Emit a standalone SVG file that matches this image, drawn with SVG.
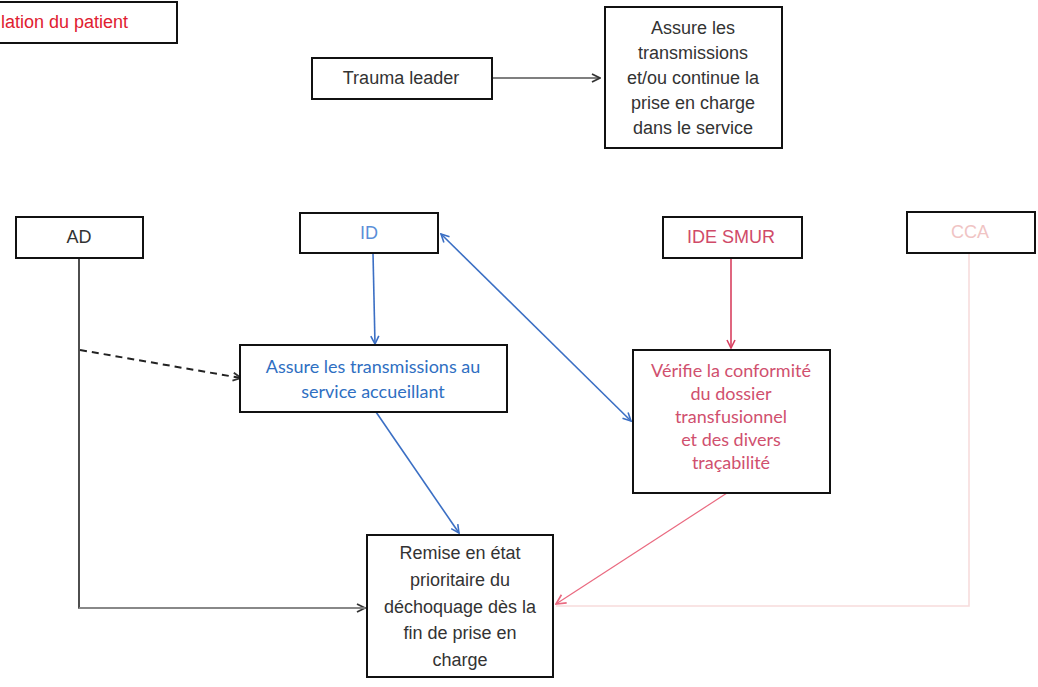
<svg xmlns="http://www.w3.org/2000/svg" width="1038" height="687" viewBox="0 0 1038 687">
<defs>
<style>
.box{fill:#fff;stroke:#111;stroke-width:2}
.t{font-family:"Liberation Sans",Arial,sans-serif;font-size:18px;text-anchor:middle}
.c{font-family:Lato,"Open Sans","Liberation Sans",sans-serif;font-size:18px;text-anchor:middle}
.ln{fill:none;stroke-width:1.6}
</style>
<marker id="aBlack" viewBox="0 0 10 10" refX="9" refY="5" markerWidth="10" markerHeight="10" markerUnits="userSpaceOnUse" orient="auto"><path d="M1,1 L9,5 L1,9" fill="none" stroke="#333" stroke-width="1.8"/></marker>
<marker id="aBlue" viewBox="0 0 10 10" refX="9" refY="5" markerWidth="10" markerHeight="10" markerUnits="userSpaceOnUse" orient="auto-start-reverse"><path d="M1,1 L9,5 L1,9" fill="none" stroke="#3b6fc4" stroke-width="1.6"/></marker>
<marker id="aRed" viewBox="0 0 10 10" refX="9" refY="5" markerWidth="10" markerHeight="10" markerUnits="userSpaceOnUse" orient="auto"><path d="M1,1 L9,5 L1,9" fill="none" stroke="#d84060" stroke-width="1.6"/></marker>
<marker id="aPink" viewBox="0 0 10 10" refX="9" refY="5" markerWidth="12" markerHeight="12" markerUnits="userSpaceOnUse" orient="auto"><path d="M1,1 L9,5 L1,9" fill="none" stroke="#ea6a80" stroke-width="1.4"/></marker>
</defs>
<rect width="1038" height="687" fill="#fff"/>

<g id="connectors">
<!-- Trauma leader -> Assure -->
<line class="ln" x1="492" y1="78" x2="600" y2="78" stroke="#555" marker-end="url(#aBlack)"/>
<!-- AD vertical and to Remise -->
<path class="ln" d="M79,258 L79,608 L365,608" stroke="#222" marker-end="url(#aBlack)"/>
<line x1="79" y1="608" x2="365" y2="608" stroke="#999" stroke-width="1.6"/>
<!-- AD dashed to Assure transmissions -->
<line x1="80" y1="350" x2="241" y2="378" stroke="#222" stroke-width="2" stroke-dasharray="7,5" marker-end="url(#aBlack)"/>
<!-- ID down -->
<line class="ln" x1="373" y1="253" x2="375" y2="344" stroke="#3b6fc4" marker-end="url(#aBlue)"/>
<!-- ID <-> Vérifie -->
<line class="ln" x1="441" y1="234" x2="631" y2="421" stroke="#3b6fc4" marker-start="url(#aBlue)" marker-end="url(#aBlue)"/>
<!-- Assure transmissions -> Remise -->
<line class="ln" x1="376" y1="412" x2="459" y2="533" stroke="#3b6fc4" marker-end="url(#aBlue)"/>
<!-- IDE SMUR down -->
<line class="ln" x1="731" y1="258" x2="731" y2="348" stroke="#d84060" marker-end="url(#aRed)"/>
<!-- CCA line -->
<path d="M969,253 L969,606 L556,606" fill="none" stroke="#f7dcdc" stroke-width="1.6"/>
<!-- Vérifie -> Remise -->
<line x1="727" y1="493" x2="556" y2="604" stroke="#ea6a80" stroke-width="1.2" marker-end="url(#aPink)"/>
</g>

<g id="node-top-left">
<rect class="box" x="-10" y="2" width="187" height="41"/>
<text x="1" y="28" font-family="Liberation Sans,Arial,sans-serif" font-size="18" fill="#e02030">lation du patient</text>
</g>

<g id="node-trauma-leader">
<rect class="box" x="312" y="58" width="180" height="41"/>
<text class="t" x="401" y="84" fill="#333">Trauma leader</text>
</g>

<g id="node-assure-top">
<rect class="box" x="605" y="7" width="177" height="141"/>
<text class="t" fill="#333"><tspan x="693" y="34">Assure les</tspan><tspan x="693" y="59">transmissions</tspan><tspan x="693" y="84">et/ou continue la</tspan><tspan x="693" y="109">prise en charge</tspan><tspan x="693" y="134">dans le service</tspan></text>
</g>

<g id="node-ad">
<rect class="box" x="16" y="217" width="127" height="41"/>
<text class="t" x="79" y="243" fill="#333">AD</text>
</g>

<g id="node-id">
<rect class="box" x="300" y="213" width="138" height="40"/>
<text class="t" x="369" y="239" fill="#5a8ed8">ID</text>
</g>

<g id="node-ide-smur">
<rect class="box" x="663" y="217" width="139" height="41"/>
<text class="t" x="731" y="243" fill="#d04a68">IDE SMUR</text>
</g>

<g id="node-cca">
<rect class="box" x="907" y="212" width="128" height="41"/>
<text class="t" x="970" y="238" fill="#f0c4c4">CCA</text>
</g>

<g id="node-assure-transmissions">
<rect class="box" x="240" y="345" width="267" height="67"/>
<text class="c" fill="#2f6fc2"><tspan x="373" y="373">Assure les transmissions au</tspan><tspan x="373" y="398">service accueillant</tspan></text>
</g>

<g id="node-verifie">
<rect class="box" x="633" y="350" width="197" height="143"/>
<text class="c" fill="#d0506e" font-size="17"><tspan x="731" y="377">Vérifie la conformité</tspan><tspan x="731" y="400">du dossier</tspan><tspan x="731" y="423">transfusionnel</tspan><tspan x="731" y="446">et des divers</tspan><tspan x="731" y="469">traçabilité</tspan></text>
</g>

<g id="node-remise">
<rect class="box" x="367" y="535" width="186" height="142"/>
<text class="t" fill="#333"><tspan x="460" y="559">Remise en état</tspan><tspan x="460" y="586">prioritaire du</tspan><tspan x="460" y="613">déchoquage dès la</tspan><tspan x="460" y="639">fin de prise en</tspan><tspan x="460" y="666">charge</tspan></text>
</g>
</svg>
